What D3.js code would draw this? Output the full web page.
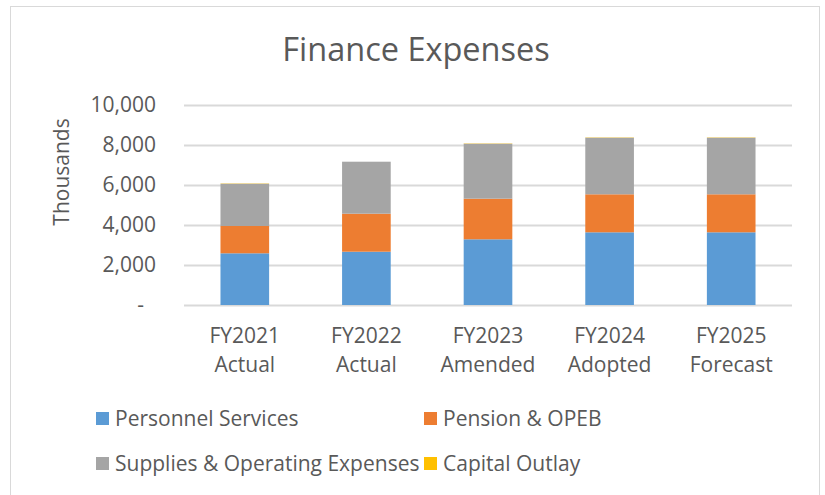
<!DOCTYPE html>
<html>
<head>
<meta charset="utf-8">
<script src="https://cdn.jsdelivr.net/npm/d3@7"></script>
<style>
  body { margin: 0; background: #fff; }
  text { font-family: "Open Sans", sans-serif; fill: #595959; }
</style>
</head>
<body>
<script>
const w = 825;
const h = 495;

// values in thousands
const years = ["FY2021", "FY2022", "FY2023", "FY2024", "FY2025"];
const stages = ["Actual", "Actual", "Amended", "Adopted", "Forecast"];
const personnel = [2585, 2665, 3285, 3635, 3635];
const pension = [1365, 1900, 2030, 1900, 1900];
const supplies = [2115, 2600, 2750, 2830, 2830];
const capital = [15, 0, 15, 15, 15];
const seriesNames = ["Personnel Services", "Pension & OPEB", "Supplies & Operating Expenses", "Capital Outlay"];
const colors = ["#5B9BD5", "#ED7D31", "#A5A5A5", "#FFC000"];
const yTicks = [0, 2000, 4000, 6000, 8000, 10000];

const rows = years.map((y, i) => ({
  year: y,
  p0: personnel[i], p1: pension[i], p2: supplies[i], p3: capital[i]
}));
const keys = ["p0", "p1", "p2", "p3"];

const svg = d3.select("body").append("svg").attr("width", w).attr("height", h);

// chart frame
svg.append("rect")
  .attr("x", 10.5).attr("y", 6.5)
  .attr("width", 809).attr("height", 500)
  .attr("fill", "#fff").attr("stroke", "#D9D9D9");

const xScale = d3.scaleBand()
  .domain(years)
  .range([184, 792])
  .paddingInner(0.6)
  .paddingOuter(0.3);
const yScale = d3.scaleLinear().domain([0, 10000]).range([305, 105]);

// y axis with gridlines
const yAxis = svg.append("g")
  .attr("transform", "translate(184,0)")
  .call(d3.axisLeft(yScale).tickValues(yTicks).tickSize(-608).tickPadding(28)
    .tickFormat((d) => (d === 0 ? "-" : d3.format(",")(d))));
yAxis.select(".domain").remove();
yAxis.selectAll("line").attr("stroke", "#D9D9D9").attr("stroke-width", 2);
yAxis.selectAll("text")
  .style("font-size", "21px")
  .attr("fill", "#595959")
  .attr("dx", (d) => (d === 0 ? -12 : 0));

const stack = d3.stack().keys(keys)(rows);

svg.append("g")
  .selectAll("g")
  .data(stack)
  .join("g")
  .attr("fill", (d, i) => colors[i])
  .selectAll("rect")
  .data((d) => d)
  .join("rect")
  .attr("x", (d) => xScale(d.data.year))
  .attr("y", (d) => yScale(d[1]))
  .attr("width", xScale.bandwidth())
  .attr("height", (d) => yScale(d[0]) - yScale(d[1]));

// x labels, two lines
const xLab = svg.append("g")
  .selectAll("text")
  .data(years)
  .join("text")
  .attr("x", (d) => xScale(d) + xScale.bandwidth() / 2)
  .attr("y", 343)
  .attr("text-anchor", "middle")
  .style("font-size", "21px");
xLab.append("tspan").text((d) => d);
xLab.append("tspan")
  .attr("x", (d) => xScale(d) + xScale.bandwidth() / 2)
  .attr("dy", 29)
  .text((d, i) => stages[i]);

// title
svg.append("text")
  .text("Finance Expenses")
  .attr("x", 416)
  .attr("y", 61)
  .attr("text-anchor", "middle")
  .style("font-size", "32.5px");

// axis label
svg.append("text")
  .text("Thousands")
  .attr("transform", "translate(69,172) rotate(-90)")
  .attr("text-anchor", "middle")
  .style("font-size", "21px");

// legend
const legendPos = [[96, 418], [424, 418], [96, 463], [424, 463]];
const legend = svg.append("g")
  .selectAll("g")
  .data(seriesNames)
  .join("g")
  .attr("transform", (d, i) => `translate(${legendPos[i][0]},${legendPos[i][1]})`);
legend.append("rect")
  .attr("y", -6).attr("width", 13).attr("height", 13)
  .attr("fill", (d, i) => colors[i]);
legend.append("text")
  .text((d) => d)
  .attr("x", 19)
  .attr("y", 7.5)
  .style("font-size", "21px");
</script>
</body>
</html>
